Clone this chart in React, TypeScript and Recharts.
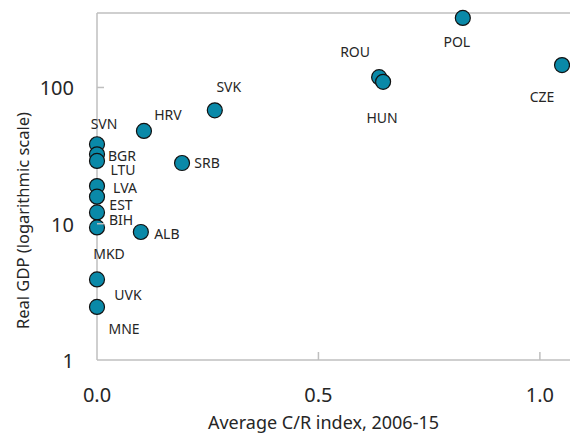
import React from 'react'
import {
  ScatterChart,
  Scatter,
  XAxis,
  YAxis,
  ReferenceLine,
  Label,
} from 'recharts'

// country codes, average C/R index 2006-15, real GDP
const countries = ['SVN', 'BGR', 'LTU', 'LVA', 'EST', 'BIH', 'MKD', 'UVK', 'MNE', 'HRV', 'SVK', 'SRB', 'ALB', 'ROU', 'HUN', 'POL', 'CZE']
const crIndex = [0, 0, 0, 0, 0, 0, 0, 0, 0, 0.106, 0.266, 0.192, 0.099, 0.637, 0.646, 0.826, 1.05]
const realGdp = [38.3, 32.3, 28.9, 18.9, 15.8, 12.1, 9.4, 3.9, 2.45, 48, 68, 27.9, 8.7, 119, 110, 324, 146]

const xTicks = [0, 0.5, 1]
const yTicks = [1, 10, 100]
const xMax = 1.068
const yMax = 352

// label placement (centre of label relative to the marker)
const labelPos: Record<string, [number, number]> = {
  SVN: [7, -20],
  BGR: [25, 2],
  LTU: [26, 9],
  LVA: [28, 2],
  EST: [24, 8],
  BIH: [24, 8],
  MKD: [12, 27],
  UVK: [31, 16],
  MNE: [27, 22],
  HRV: [24, -16],
  SVK: [14, -23],
  SRB: [25, 0],
  ALB: [26, 2],
  ROU: [-24, -25],
  HUN: [-1, 36],
  POL: [-6, 24],
  CZE: [-20, 32],
}

const data = countries.map((c, i) => ({ name: c, x: crIndex[i], y: realGdp[i] }))

const axisColor = '#bfbfbf'
const textColor = '#262626'
const font = '"Noto Sans", sans-serif'

const YTick = (props: any) => {
  const { x, y, payload } = props
  return (
    <g>
      {payload.value !== 1 && <line x1={x} x2={x + 7} y1={y} y2={y} stroke={axisColor} strokeWidth={1.5} />}
      <text x={x - 23} y={y + 8} textAnchor="end" fontSize={20} fill={textColor} fontFamily={font}>
        {payload.value}
      </text>
    </g>
  )
}

const XTick = (props: any) => {
  const { x, y, payload } = props
  return (
    <g>
      {payload.value !== 0 && <line x1={x} x2={x} y1={y} y2={y - 8} stroke={axisColor} strokeWidth={1.5} />}
      <text x={x} y={y + 42} textAnchor="middle" fontSize={20} fill={textColor} fontFamily={font}>
        {payload.value.toFixed(1)}
      </text>
    </g>
  )
}

const Dot = (props: any) => {
  const { cx, cy } = props
  return <circle cx={cx} cy={cy} r={7.5} fill="#0a89a8" stroke="#111" strokeWidth={1.2} />
}

const CountryLabel = (props: any) => {
  const { cx, cy, payload } = props
  const [dx, dy] = labelPos[payload.name] || [0, 0]
  return (
    <text x={cx + dx} y={cy + dy + 5} textAnchor="middle" fontSize={14} fill={textColor} fontFamily={font}>
      {payload.name}
    </text>
  )
}

const YTitle = (props: any) => {
  const { viewBox } = props
  const cy = viewBox.y + viewBox.height / 2 + 34
  return (
    <text
      x={22}
      y={cy}
      transform={`rotate(-90, 22, ${cy})`}
      textAnchor="middle"
      dominantBaseline="central"
      fontSize={16.5}
      fill={textColor}
      fontFamily={font}
    >
      Real GDP (logarithmic scale)
    </text>
  )
}

const XTitle = (props: any) => {
  const { viewBox } = props
  const cx = viewBox.x + viewBox.width / 2 - 10
  return (
    <text x={cx} y={429} textAnchor="middle" fontSize={18} fill={textColor} fontFamily={font}>
      Average C/R index, 2006-15
    </text>
  )
}

export default function App() {
  return (
    <div style={{ position: 'absolute', left: 0, top: 0, background: '#fff' }}>
      <ScatterChart width={570} height={433} margin={{ top: 13, right: 0, bottom: 0, left: 0 }}>
        <XAxis
          type="number"
          dataKey="x"
          domain={[0, xMax]}
          ticks={xTicks}
          height={73}
          stroke={axisColor}
          strokeWidth={1.5}
          tickLine={false}
          tickSize={0}
          tickMargin={0}
          tick={<XTick />}
        >
          <Label content={<XTitle />} />
        </XAxis>
        <YAxis
          type="number"
          dataKey="y"
          scale="log"
          domain={[1, yMax]}
          ticks={yTicks}
          width={97}
          stroke={axisColor}
          strokeWidth={1.5}
          tickLine={false}
          tickSize={0}
          tickMargin={0}
          tick={<YTick />}
        >
          <Label content={<YTitle />} />
        </YAxis>
        <ReferenceLine y={yMax} stroke={axisColor} strokeWidth={1.5} />
        <Scatter data={data} shape={<Dot />} isAnimationActive={false} />
        <Scatter data={data} shape={<CountryLabel />} isAnimationActive={false} />
      </ScatterChart>
    </div>
  )
}
